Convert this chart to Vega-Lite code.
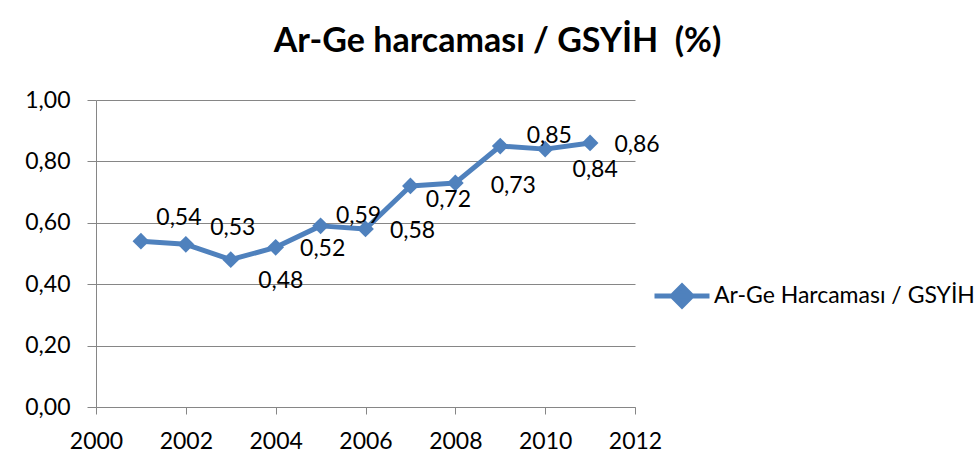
{
  "$schema": "https://vega.github.io/schema/vega-lite/v6.json",
  "width": 539,
  "height": 307,
  "autosize": {"type": "none"},
  "padding": {"left": 96, "top": 100, "right": 342, "bottom": 65},
  "background": "white",
  "config": {
    "locale": {"number": {"decimal": ",", "thousands": ".", "grouping": [3], "currency": ["", ""]}},
    "view": {"stroke": null},
    "font": "Lato"
  },
  "title": {
    "text": "Ar-Ge harcaması / GSYİH \u00a0(%)",
    "font": "Lato",
    "fontSize": 34,
    "fontWeight": "bold",
    "color": "black",
    "anchor": "middle",
    "baseline": "alphabetic",
    "dx": 132,
    "offset": 3
  },
  "data": {
    "values": [
      {"year": 2001, "value": 0.54},
      {"year": 2002, "value": 0.53},
      {"year": 2003, "value": 0.48},
      {"year": 2004, "value": 0.52},
      {"year": 2005, "value": 0.59},
      {"year": 2006, "value": 0.58},
      {"year": 2007, "value": 0.72},
      {"year": 2008, "value": 0.73},
      {"year": 2009, "value": 0.85},
      {"year": 2010, "value": 0.84},
      {"year": 2011, "value": 0.86}
    ]
  },
  "encoding": {
    "x": {
      "field": "year",
      "type": "quantitative",
      "scale": {"domain": [2000, 2012], "nice": false, "zero": false},
      "axis": {
        "title": null,
        "values": [2000, 2002, 2004, 2006, 2008, 2010, 2012],
        "format": "d",
        "grid": false,
        "domainColor": "#868686",
        "tickColor": "#868686",
        "tickSize": 7,
        "labelFont": "Lato",
        "labelFontSize": 23,
        "labelColor": "black",
        "labelPadding": 16,
        "labelFlush": false,
        "labelOverlap": false
      }
    },
    "y": {
      "field": "value",
      "type": "quantitative",
      "scale": {"domain": [0, 1], "nice": false},
      "axis": {
        "title": null,
        "values": [0, 0.2, 0.4, 0.6, 0.8, 1.0],
        "format": ".2f",
        "grid": true,
        "gridColor": "#868686",
        "gridWidth": 1,
        "domainColor": "#868686",
        "tickColor": "#868686",
        "tickSize": 9,
        "labelFont": "Lato",
        "labelFontSize": 23,
        "labelColor": "black",
        "labelPadding": 17,
        "labelFlush": false,
        "labelOverlap": false
      }
    }
  },
  "layer": [
    {
      "mark": {
        "type": "line",
        "strokeWidth": 5,
        "strokeJoin": "round",
        "strokeCap": "round",
        "point": {"shape": "diamond", "size": 280, "filled": true, "opacity": 1}
      },
      "encoding": {
        "color": {
          "datum": "Ar-Ge Harcaması / GSYİH",
          "scale": {"range": ["#4F81BD"]},
          "legend": {
            "title": null,
            "orient": "none",
            "legendX": 556,
            "legendY": 166,
            "padding": 0,
            "symbolType": "M-1,0H1M-0.36,0L0,-0.36L0.36,0L0,0.36Z",
            "symbolSize": 3025,
            "symbolStrokeWidth": 5,
            "symbolFillColor": "#4F81BD",
            "symbolStrokeColor": "#4F81BD",
            "symbolOpacity": 1,
            "labelFont": "Lato",
            "labelFontSize": 23,
            "labelColor": "black",
            "labelLimit": 0,
            "labelOffset": 2
          }
        }
      }
    },
    {
      "transform": [{"filter": "datum.year == 2001"}],
      "mark": {"type": "text", "font": "Lato", "fontSize": 23, "color": "black", "align": "center", "baseline": "middle", "dx": 38, "dy": -23},
      "encoding": {"text": {"field": "value", "type": "quantitative", "format": ".2f"}}
    },
    {
      "transform": [{"filter": "datum.year == 2002"}],
      "mark": {"type": "text", "font": "Lato", "fontSize": 23, "color": "black", "align": "center", "baseline": "middle", "dx": 47, "dy": -16},
      "encoding": {"text": {"field": "value", "type": "quantitative", "format": ".2f"}}
    },
    {
      "transform": [{"filter": "datum.year == 2003 || datum.year == 2010"}],
      "mark": {"type": "text", "font": "Lato", "fontSize": 23, "color": "black", "align": "center", "baseline": "middle", "dx": 50, "dy": 21},
      "encoding": {"text": {"field": "value", "type": "quantitative", "format": ".2f"}}
    },
    {
      "transform": [{"filter": "datum.year == 2004 || datum.year == 2006 || datum.year == 2011"}],
      "mark": {"type": "text", "font": "Lato", "fontSize": 23, "color": "black", "align": "center", "baseline": "middle", "dx": 47, "dy": 2},
      "encoding": {"text": {"field": "value", "type": "quantitative", "format": ".2f"}}
    },
    {
      "transform": [{"filter": "datum.year == 2005"}],
      "mark": {"type": "text", "font": "Lato", "fontSize": 23, "color": "black", "align": "center", "baseline": "middle", "dx": 38, "dy": -10},
      "encoding": {"text": {"field": "value", "type": "quantitative", "format": ".2f"}}
    },
    {
      "transform": [{"filter": "datum.year == 2007"}],
      "mark": {"type": "text", "font": "Lato", "fontSize": 23, "color": "black", "align": "center", "baseline": "middle", "dx": 38, "dy": 14},
      "encoding": {"text": {"field": "value", "type": "quantitative", "format": ".2f"}}
    },
    {
      "transform": [{"filter": "datum.year == 2008"}],
      "mark": {"type": "text", "font": "Lato", "fontSize": 23, "color": "black", "align": "center", "baseline": "middle", "dx": 58, "dy": 3},
      "encoding": {"text": {"field": "value", "type": "quantitative", "format": ".2f"}}
    },
    {
      "transform": [{"filter": "datum.year == 2009"}],
      "mark": {"type": "text", "font": "Lato", "fontSize": 23, "color": "black", "align": "center", "baseline": "middle", "dx": 49, "dy": -10},
      "encoding": {"text": {"field": "value", "type": "quantitative", "format": ".2f"}}
    }
  ]
}
